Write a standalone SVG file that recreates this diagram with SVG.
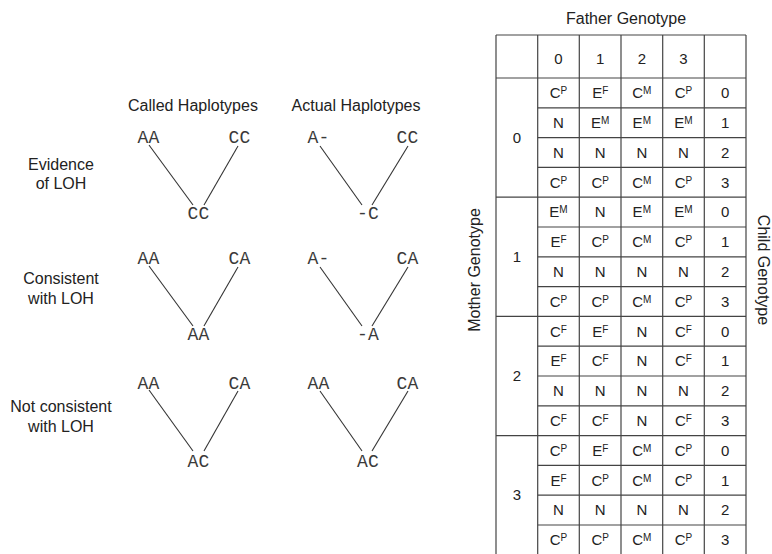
<svg xmlns="http://www.w3.org/2000/svg" width="772" height="554" viewBox="0 0 772 554">
<style>
.lbl{font-family:"Liberation Sans",Arial,sans-serif;font-size:16px;fill:#222;text-anchor:middle}
.mono{font-family:"Liberation Mono","Courier New",monospace;font-size:18px;fill:#3a3a3a;text-anchor:middle;letter-spacing:0.3px}
.cell{font-family:"Liberation Sans",Arial,sans-serif;font-size:15px;fill:#222;text-anchor:middle}
.sup{font-size:10px}
.edge{stroke:#333;stroke-width:1.1;fill:none}
.grid{stroke:#444;stroke-width:1.2;fill:none}
</style>
<rect width="772" height="554" fill="#fff"/>

<!-- column headings -->
<text class="lbl" x="193" y="111">Called Haplotypes</text>
<text class="lbl" x="356" y="111">Actual Haplotypes</text>

<!-- row labels -->
<g id="row-evidence">
<text class="lbl" x="61" y="169.5">Evidence</text>
<text class="lbl" x="61" y="189">of LOH</text>
</g>
<g id="row-consistent">
<text class="lbl" x="61" y="284">Consistent</text>
<text class="lbl" x="61" y="303.5">with LOH</text>
</g>
<g id="row-notconsistent">
<text class="lbl" x="61" y="412">Not consistent</text>
<text class="lbl" x="61" y="431.5">with LOH</text>
</g>

<!-- nodes -->
<g id="r1-called-left"><text class="mono" x="148.5" y="143">AA</text></g>
<g id="r1-called-right"><text class="mono" x="239.5" y="143">CC</text></g>
<g id="r1-called-child"><text class="mono" x="198.5" y="219">CC</text></g>
<g id="r1-actual-left"><text class="mono" x="318.5" y="143">A-</text></g>
<g id="r1-actual-right"><text class="mono" x="407.5" y="143">CC</text></g>
<g id="r1-actual-child"><text class="mono" x="368" y="219">-C</text></g>

<g id="r2-called-left"><text class="mono" x="148.5" y="264">AA</text></g>
<g id="r2-called-right"><text class="mono" x="239.5" y="264">CA</text></g>
<g id="r2-called-child"><text class="mono" x="198.5" y="340">AA</text></g>
<g id="r2-actual-left"><text class="mono" x="318.5" y="264">A-</text></g>
<g id="r2-actual-right"><text class="mono" x="407.5" y="264">CA</text></g>
<g id="r2-actual-child"><text class="mono" x="368" y="340">-A</text></g>

<g id="r3-called-left"><text class="mono" x="148.5" y="389">AA</text></g>
<g id="r3-called-right"><text class="mono" x="239.5" y="389">CA</text></g>
<g id="r3-called-child"><text class="mono" x="198.5" y="467">AC</text></g>
<g id="r3-actual-left"><text class="mono" x="318.5" y="389">AA</text></g>
<g id="r3-actual-right"><text class="mono" x="407.5" y="389">CA</text></g>
<g id="r3-actual-child"><text class="mono" x="368" y="467">AC</text></g>

<!-- connectors -->
<g id="connectors" class="edge">
<line x1="149" y1="145" x2="193" y2="205"/>
<line x1="238" y1="146" x2="204" y2="205"/>
<line x1="320" y1="146" x2="362" y2="205"/>
<line x1="408" y1="146" x2="372" y2="205"/>

<line x1="149" y1="266" x2="193" y2="326"/>
<line x1="238" y1="267" x2="204" y2="326"/>
<line x1="320" y1="267" x2="362" y2="326"/>
<line x1="408" y1="267" x2="372" y2="326"/>

<line x1="149" y1="390" x2="193" y2="451"/>
<line x1="238" y1="391" x2="204" y2="451"/>
<line x1="320" y1="391" x2="362" y2="451"/>
<line x1="408" y1="391" x2="372" y2="451"/>
</g>

<!-- table -->
<g id="table">
<text class="lbl" x="626" y="24">Father Genotype</text>
<text class="lbl" transform="translate(480,270) rotate(-90)">Mother Genotype</text>
<text class="lbl" transform="translate(758,270) rotate(90)">Child Genotype</text>

<g class="grid">
<line x1="496" y1="35" x2="746" y2="35"/>
<line x1="496" y1="78" x2="746" y2="78"/>
<line x1="496" y1="197.2" x2="746" y2="197.2"/>
<line x1="496" y1="316.4" x2="746" y2="316.4"/>
<line x1="496" y1="435.6" x2="746" y2="435.6"/>
<line x1="496" y1="554.8" x2="746" y2="554.8"/>
<line x1="537.7" y1="107.8" x2="746" y2="107.8"/>
<line x1="537.7" y1="137.6" x2="746" y2="137.6"/>
<line x1="537.7" y1="167.4" x2="746" y2="167.4"/>
<line x1="537.7" y1="227" x2="746" y2="227"/>
<line x1="537.7" y1="256.8" x2="746" y2="256.8"/>
<line x1="537.7" y1="286.6" x2="746" y2="286.6"/>
<line x1="537.7" y1="346.2" x2="746" y2="346.2"/>
<line x1="537.7" y1="376" x2="746" y2="376"/>
<line x1="537.7" y1="405.8" x2="746" y2="405.8"/>
<line x1="537.7" y1="465.4" x2="746" y2="465.4"/>
<line x1="537.7" y1="495.2" x2="746" y2="495.2"/>
<line x1="537.7" y1="525" x2="746" y2="525"/>
<line x1="496" y1="35" x2="496" y2="556"/>
<line x1="537.7" y1="35" x2="537.7" y2="556"/>
<line x1="579.3" y1="35" x2="579.3" y2="556"/>
<line x1="621" y1="35" x2="621" y2="556"/>
<line x1="662.7" y1="35" x2="662.7" y2="556"/>
<line x1="704.3" y1="35" x2="704.3" y2="556"/>
<line x1="746" y1="35" x2="746" y2="556"/>
</g>

<!-- header digits -->
<text class="cell" x="558.5" y="63.5">0</text>
<text class="cell" x="600.2" y="63.5">1</text>
<text class="cell" x="641.8" y="63.5">2</text>
<text class="cell" x="683.5" y="63.5">3</text>

<!-- mother section numbers -->
<text class="cell" x="517" y="142.6">0</text>
<text class="cell" x="517" y="261.8">1</text>
<text class="cell" x="517" y="381">2</text>
<text class="cell" x="517" y="500.2">3</text>

<!-- section 0 -->
<g id="sec0">
<text class="cell" x="558.5" y="98.2">C<tspan class="sup" dy="-4">P</tspan></text>
<text class="cell" x="600.2" y="98.2">E<tspan class="sup" dy="-4">F</tspan></text>
<text class="cell" x="641.8" y="98.2">C<tspan class="sup" dy="-4">M</tspan></text>
<text class="cell" x="683.5" y="98.2">C<tspan class="sup" dy="-4">P</tspan></text>
<text class="cell" x="725.2" y="98.2">0</text>

<text class="cell" x="558.5" y="128">N</text>
<text class="cell" x="600.2" y="128">E<tspan class="sup" dy="-4">M</tspan></text>
<text class="cell" x="641.8" y="128">E<tspan class="sup" dy="-4">M</tspan></text>
<text class="cell" x="683.5" y="128">E<tspan class="sup" dy="-4">M</tspan></text>
<text class="cell" x="725.2" y="128">1</text>

<text class="cell" x="558.5" y="157.8">N</text>
<text class="cell" x="600.2" y="157.8">N</text>
<text class="cell" x="641.8" y="157.8">N</text>
<text class="cell" x="683.5" y="157.8">N</text>
<text class="cell" x="725.2" y="157.8">2</text>

<text class="cell" x="558.5" y="187.6">C<tspan class="sup" dy="-4">P</tspan></text>
<text class="cell" x="600.2" y="187.6">C<tspan class="sup" dy="-4">P</tspan></text>
<text class="cell" x="641.8" y="187.6">C<tspan class="sup" dy="-4">M</tspan></text>
<text class="cell" x="683.5" y="187.6">C<tspan class="sup" dy="-4">P</tspan></text>
<text class="cell" x="725.2" y="187.6">3</text>
</g>

<!-- section 1 -->
<g id="sec1">
<text class="cell" x="558.5" y="217.4">E<tspan class="sup" dy="-4">M</tspan></text>
<text class="cell" x="600.2" y="217.4">N</text>
<text class="cell" x="641.8" y="217.4">E<tspan class="sup" dy="-4">M</tspan></text>
<text class="cell" x="683.5" y="217.4">E<tspan class="sup" dy="-4">M</tspan></text>
<text class="cell" x="725.2" y="217.4">0</text>

<text class="cell" x="558.5" y="247.2">E<tspan class="sup" dy="-4">F</tspan></text>
<text class="cell" x="600.2" y="247.2">C<tspan class="sup" dy="-4">P</tspan></text>
<text class="cell" x="641.8" y="247.2">C<tspan class="sup" dy="-4">M</tspan></text>
<text class="cell" x="683.5" y="247.2">C<tspan class="sup" dy="-4">P</tspan></text>
<text class="cell" x="725.2" y="247.2">1</text>

<text class="cell" x="558.5" y="277">N</text>
<text class="cell" x="600.2" y="277">N</text>
<text class="cell" x="641.8" y="277">N</text>
<text class="cell" x="683.5" y="277">N</text>
<text class="cell" x="725.2" y="277">2</text>

<text class="cell" x="558.5" y="306.8">C<tspan class="sup" dy="-4">P</tspan></text>
<text class="cell" x="600.2" y="306.8">C<tspan class="sup" dy="-4">P</tspan></text>
<text class="cell" x="641.8" y="306.8">C<tspan class="sup" dy="-4">M</tspan></text>
<text class="cell" x="683.5" y="306.8">C<tspan class="sup" dy="-4">P</tspan></text>
<text class="cell" x="725.2" y="306.8">3</text>
</g>

<!-- section 2 -->
<g id="sec2">
<text class="cell" x="558.5" y="336.6">C<tspan class="sup" dy="-4">F</tspan></text>
<text class="cell" x="600.2" y="336.6">E<tspan class="sup" dy="-4">F</tspan></text>
<text class="cell" x="641.8" y="336.6">N</text>
<text class="cell" x="683.5" y="336.6">C<tspan class="sup" dy="-4">F</tspan></text>
<text class="cell" x="725.2" y="336.6">0</text>

<text class="cell" x="558.5" y="366.4">E<tspan class="sup" dy="-4">F</tspan></text>
<text class="cell" x="600.2" y="366.4">C<tspan class="sup" dy="-4">F</tspan></text>
<text class="cell" x="641.8" y="366.4">N</text>
<text class="cell" x="683.5" y="366.4">C<tspan class="sup" dy="-4">F</tspan></text>
<text class="cell" x="725.2" y="366.4">1</text>

<text class="cell" x="558.5" y="396.2">N</text>
<text class="cell" x="600.2" y="396.2">N</text>
<text class="cell" x="641.8" y="396.2">N</text>
<text class="cell" x="683.5" y="396.2">N</text>
<text class="cell" x="725.2" y="396.2">2</text>

<text class="cell" x="558.5" y="426">C<tspan class="sup" dy="-4">F</tspan></text>
<text class="cell" x="600.2" y="426">C<tspan class="sup" dy="-4">F</tspan></text>
<text class="cell" x="641.8" y="426">N</text>
<text class="cell" x="683.5" y="426">C<tspan class="sup" dy="-4">F</tspan></text>
<text class="cell" x="725.2" y="426">3</text>
</g>

<!-- section 3 -->
<g id="sec3">
<text class="cell" x="558.5" y="455.8">C<tspan class="sup" dy="-4">P</tspan></text>
<text class="cell" x="600.2" y="455.8">E<tspan class="sup" dy="-4">F</tspan></text>
<text class="cell" x="641.8" y="455.8">C<tspan class="sup" dy="-4">M</tspan></text>
<text class="cell" x="683.5" y="455.8">C<tspan class="sup" dy="-4">P</tspan></text>
<text class="cell" x="725.2" y="455.8">0</text>

<text class="cell" x="558.5" y="485.6">E<tspan class="sup" dy="-4">F</tspan></text>
<text class="cell" x="600.2" y="485.6">C<tspan class="sup" dy="-4">P</tspan></text>
<text class="cell" x="641.8" y="485.6">C<tspan class="sup" dy="-4">M</tspan></text>
<text class="cell" x="683.5" y="485.6">C<tspan class="sup" dy="-4">P</tspan></text>
<text class="cell" x="725.2" y="485.6">1</text>

<text class="cell" x="558.5" y="515.4">N</text>
<text class="cell" x="600.2" y="515.4">N</text>
<text class="cell" x="641.8" y="515.4">N</text>
<text class="cell" x="683.5" y="515.4">N</text>
<text class="cell" x="725.2" y="515.4">2</text>

<text class="cell" x="558.5" y="545.2">C<tspan class="sup" dy="-4">P</tspan></text>
<text class="cell" x="600.2" y="545.2">C<tspan class="sup" dy="-4">P</tspan></text>
<text class="cell" x="641.8" y="545.2">C<tspan class="sup" dy="-4">M</tspan></text>
<text class="cell" x="683.5" y="545.2">C<tspan class="sup" dy="-4">P</tspan></text>
<text class="cell" x="725.2" y="545.2">3</text>
</g>
</g>
</svg>
